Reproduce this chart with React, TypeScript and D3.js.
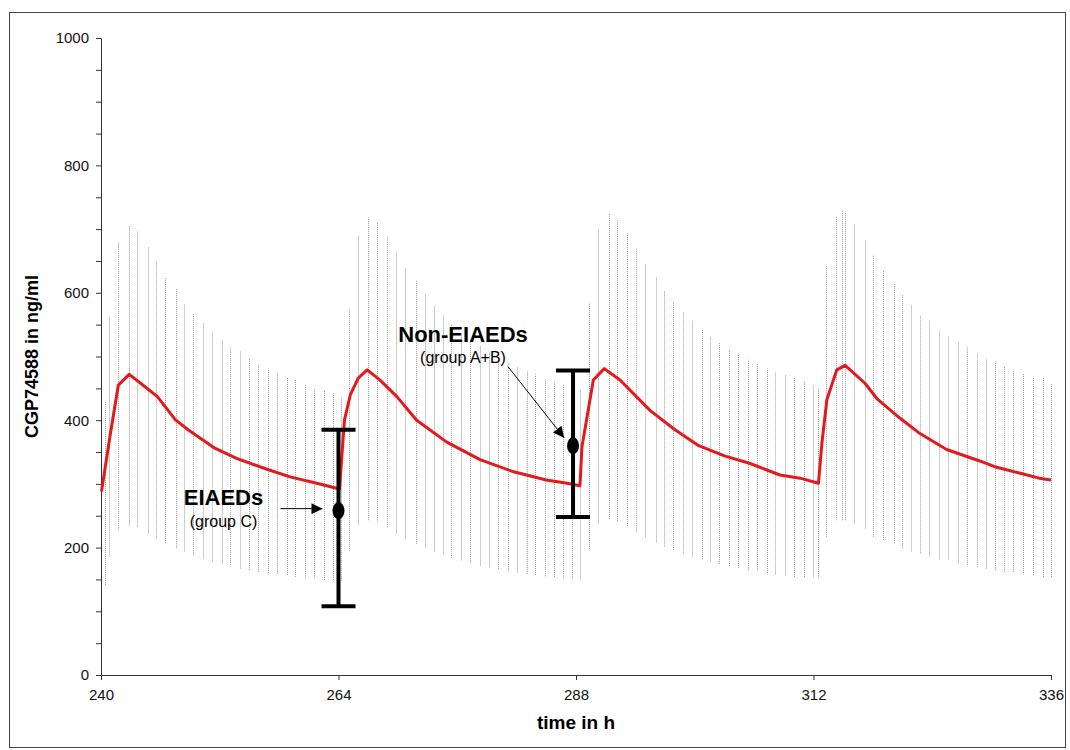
import React, { useEffect, useRef } from 'react';
import * as d3 from 'd3';

// simulated range per sampling time (grey dotted bars), one row per dosing interval
const bandTime = [
  240.4, 240.8, 241.7, 242.8, 243.6, 244.7, 245.6, 246.5, 247.6, 248.4, 249.3, 250.3, 251.2, 252.2, 253.0, 254.0, 255.0, 255.9, 256.9, 257.8, 258.8, 259.6, 260.6, 261.5, 262.5, 263.4, 264.3,
  265.1, 266.0, 267.0, 267.9, 268.9, 269.8, 270.7, 271.8, 272.7, 273.6, 274.6, 275.4, 276.4, 277.3, 278.3, 279.2, 280.1, 281.1, 282.0, 283.0, 283.9, 284.9, 285.8, 286.7, 287.6, 288.4,
  289.3, 290.2, 291.3, 292.1, 293.2, 294.1, 295.0, 296.1, 296.9, 297.8, 298.8, 299.7, 300.7, 301.5, 302.5, 303.5, 304.4, 305.4, 306.3, 307.3, 308.1, 309.1, 310.0, 311.0, 311.9, 312.5,
  313.3, 314.3, 314.85, 315.2, 316.1, 317.2, 318.0, 319.0, 320.1, 320.9, 321.9, 322.8, 323.7, 324.7, 325.6, 326.6, 327.5, 328.5, 329.4, 330.3, 331.3, 332.2, 333.2, 334.2, 335.2, 336.0,
];
const bandHigh = [
  430, 562, 680, 706, 696, 672, 649, 623, 607, 583, 568, 552, 539, 526, 515, 508, 497, 488, 481, 474, 467, 463, 455, 450, 446, 442, 437,
  575, 690, 718, 710, 688, 664, 640, 620, 598, 580, 565, 550, 537, 526, 517, 507, 498, 490, 484, 477, 472, 466, 461, 457, 452, 448,
  585, 700, 726, 716, 693, 669, 645, 625, 604, 586, 570, 556, 543, 531, 521, 511, 503, 495, 488, 481, 476, 471, 466, 460, 455, 450,
  644, 720, 730, 727, 709, 683, 659, 636, 615, 597, 581, 565, 555, 542, 531, 523, 515, 505, 497, 492, 484, 479, 473, 468, 466, 458,
];
const bandLow = [
  141, 186, 228, 235, 233, 222, 214, 207, 199, 194, 188, 183, 178, 175, 173, 167, 165, 162, 160, 159, 157, 154, 152, 152, 149, 149, 148,
  195, 236, 243, 240, 232, 222, 214, 206, 200, 194, 189, 184, 180, 176, 172, 169, 166, 163, 161, 159, 157, 155, 154, 152, 151, 150,
  198, 238, 245, 242, 234, 224, 216, 208, 202, 196, 191, 186, 182, 178, 174, 171, 168, 165, 163, 160, 158, 156, 154, 154, 153, 152,
  217, 243, 243, 243, 238, 230, 217, 212, 207, 199, 194, 191, 186, 181, 181, 175, 173, 170, 167, 165, 162, 162, 160, 157, 154, 154,
];

// mean simulated concentration (red line)
const meanTime = [
  240.05, 240.9, 241.75, 242.85, 244.0, 245.7, 247.5, 248.8, 251.5, 253.7, 256.4, 259.1, 261.8, 264.1,
  264.6, 265.2, 266.0, 266.9, 268.2, 269.9, 271.9, 274.9, 278.3, 281.7, 285.0, 287.1, 288.4,
  288.6, 289.75, 290.85, 292.45, 295.5, 298.0, 300.4, 303.0, 305.6, 308.6, 310.65, 312.5,
  312.85, 313.35, 314.35, 315.2, 317.2, 318.4, 320.75, 322.76, 325.45, 328.8, 330.3, 332.8, 334.8, 336.0,
];
const meanConc = [
  288, 374, 455, 472, 458, 437, 401, 385, 356, 340, 325, 311, 301, 292,
  400, 440, 466, 479, 463, 437, 400, 366, 338, 319, 306, 301, 297,
  358, 463, 481, 463, 415, 385, 360, 344, 332, 314, 309, 301,
  364, 432, 479, 486, 458, 434, 403, 379, 354, 336, 327, 317, 309, 306,
];

// observed troughs (mean and range)
const groupName = ['EIAEDs', 'Non-EIAEDs'];
const groupNote = ['(group C)', '(group A+B)'];
const groupTime = [264, 287.7];
const groupMean = [258, 360];
const groupLow = [108, 248];
const groupHigh = [385, 478];

const xTicks = [240, 264, 288, 312, 336];
const yLabelTicks = [0, 200, 400, 600, 800, 1000];

const FONT = '"Liberation Sans", Arial, Helvetica, sans-serif';

export default function App() {
  const ref = useRef<SVGSVGElement | null>(null);

  useEffect(() => {
    const width = 1070;
    const height = 750;
    const margin = { top: 38, right: 19, bottom: 75, left: 101 };

    const svg = d3.select(ref.current);
    svg.selectAll('*').remove();
    svg.attr('width', width).attr('height', height);

    const x = d3.scaleLinear().domain([240, 336]).range([margin.left, width - margin.right]);
    const y = d3.scaleLinear().domain([0, 1000]).range([height - margin.bottom, margin.top]);

    // outer frame
    svg.append('rect')
      .attr('x', 9.5).attr('y', 12.5)
      .attr('width', 1056).attr('height', 735)
      .attr('fill', 'white').attr('stroke', '#444').attr('stroke-width', 1);

    const defs = svg.append('defs');
    defs.append('marker')
      .attr('id', 'head')
      .attr('viewBox', '0 0 10 10')
      .attr('refX', 10).attr('refY', 5)
      .attr('markerUnits', 'userSpaceOnUse')
      .attr('markerWidth', 13).attr('markerHeight', 11)
      .attr('orient', 'auto')
      .append('path').attr('d', 'M0,0 L10,5 L0,10 Z').attr('fill', '#000');

    // dotted grey ranges
    svg.append('g')
      .selectAll('line')
      .data(bandTime)
      .join('line')
      .attr('x1', d => Math.round(x(d)) + 0.5)
      .attr('x2', d => Math.round(x(d)) + 0.5)
      .attr('y1', (d, i) => y(bandLow[i]))
      .attr('y2', (d, i) => y(bandHigh[i]))
      .attr('stroke', '#9a9a9a')
      .attr('stroke-width', 1)
      .attr('stroke-dasharray', '1,1');

    // axes
    const yAxis = d3.axisLeft(y)
      .tickValues(d3.range(0, 1001, 50))
      .tickSize(5)
      .tickSizeOuter(0)
      .tickPadding(7)
      .tickFormat(d => (yLabelTicks.includes(+d) ? String(d) : ''));
    const gy = svg.append('g').attr('transform', `translate(${margin.left},0)`).call(yAxis);

    const xAxis = d3.axisBottom(x)
      .tickValues(xTicks)
      .tickSize(5)
      .tickSizeOuter(0)
      .tickPadding(9)
      .tickFormat(d => String(d));
    const gx = svg.append('g').attr('transform', `translate(0,${height - margin.bottom})`).call(xAxis);

    [gx, gy].forEach(g => {
      g.attr('font-family', FONT).attr('font-size', 15);
      g.selectAll('path, line').attr('stroke', '#333');
      g.selectAll('text').attr('fill', '#111');
    });

    // mean curve
    svg.append('path')
      .datum(meanTime)
      .attr('fill', 'none')
      .attr('stroke', '#e3191c')
      .attr('stroke-width', 3)
      .attr('stroke-linejoin', 'round')
      .attr('d', d3.line<number>()
        .x(d => x(d))
        .y((d, i) => y(meanConc[i])));

    // observed groups with range bars
    const cap = 17;
    groupTime.forEach((t, i) => {
      const cx = x(t);
      const g = svg.append('g');
      g.append('line')
        .attr('x1', cx).attr('x2', cx)
        .attr('y1', y(groupLow[i])).attr('y2', y(groupHigh[i]))
        .attr('stroke', '#000').attr('stroke-width', 4);
      [groupLow[i], groupHigh[i]].forEach(v => {
        g.append('line')
          .attr('x1', cx - cap).attr('x2', cx + cap)
          .attr('y1', y(v)).attr('y2', y(v))
          .attr('stroke', '#000').attr('stroke-width', 4);
      });
      g.append('ellipse')
        .attr('cx', cx).attr('cy', y(groupMean[i]))
        .attr('rx', 6).attr('ry', 8.5)
        .attr('fill', '#000');
    });

    // annotations
    const ax0 = x(groupTime[0]);
    const ay0 = y(groupMean[0]);
    svg.append('text')
      .attr('x', ax0 - 115).attr('y', ay0 - 6)
      .attr('text-anchor', 'middle')
      .attr('font-family', FONT).attr('font-weight', 'bold').attr('font-size', 22)
      .text(groupName[0]);
    svg.append('text')
      .attr('x', ax0 - 115).attr('y', ay0 + 16)
      .attr('text-anchor', 'middle')
      .attr('font-family', FONT).attr('font-size', 16)
      .text(groupNote[0]);
    svg.append('line')
      .attr('x1', ax0 - 58).attr('y1', ay0 - 2)
      .attr('x2', ax0 - 16).attr('y2', ay0 - 2)
      .attr('stroke', '#000').attr('stroke-width', 1)
      .attr('marker-end', 'url(#head)');

    const ax1 = x(groupTime[1]);
    const ay1 = y(groupMean[1]);
    svg.append('text')
      .attr('x', ax1 - 110).attr('y', ay1 - 104)
      .attr('text-anchor', 'middle')
      .attr('font-family', FONT).attr('font-weight', 'bold').attr('font-size', 22)
      .text(groupName[1]);
    svg.append('text')
      .attr('x', ax1 - 110).attr('y', ay1 - 83)
      .attr('text-anchor', 'middle')
      .attr('font-family', FONT).attr('font-size', 16)
      .text(groupNote[1]);
    svg.append('line')
      .attr('x1', ax1 - 65).attr('y1', ay1 - 79)
      .attr('x2', ax1 - 9).attr('y2', ay1 - 8)
      .attr('stroke', '#000').attr('stroke-width', 1)
      .attr('marker-end', 'url(#head)');

    // axis titles
    svg.append('text')
      .attr('transform', `translate(38,${(margin.top + height - margin.bottom) / 2}) rotate(-90)`)
      .attr('text-anchor', 'middle')
      .attr('font-family', FONT).attr('font-weight', 'bold').attr('font-size', 18)
      .text('CGP74588 in ng/ml');
    svg.append('text')
      .attr('x', (margin.left + width - margin.right) / 2)
      .attr('y', 729)
      .attr('text-anchor', 'middle')
      .attr('font-family', FONT).attr('font-weight', 'bold').attr('font-size', 19)
      .text('time in h');
  }, []);

  return <svg ref={ref} style={{ position: 'absolute', left: 0, top: 0, display: 'block' }} />;
}
